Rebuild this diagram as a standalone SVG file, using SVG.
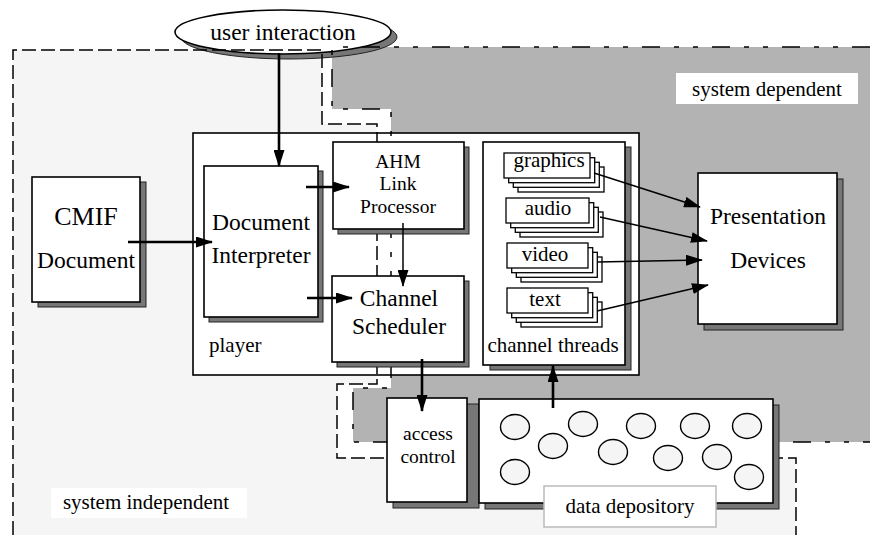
<svg xmlns="http://www.w3.org/2000/svg" width="870" height="535" viewBox="0 0 870 535">
<defs>
<style>
.box{fill:#fff;stroke:#000;stroke-width:1.6}
.sh{fill:#777;stroke:#222;stroke-width:1}
.t{font-family:"Liberation Serif","Times New Roman",serif;fill:#000;text-anchor:middle}
.big{font-size:23.5px}
.sm{font-size:21px}
.md{font-size:19.5px}
.conn{stroke:#000;fill:none}
.thick{stroke-width:2.6}
.thin{stroke-width:1.5}
.ind{fill:none;stroke:#000;stroke-width:1.5;stroke-dasharray:14 5}
.dep{fill:none;stroke:#000;stroke-width:1.5;stroke-dasharray:18 14 5 14 5 14}
.blob{fill:#f5f5f5;stroke:#000;stroke-width:1.4}
.stk{fill:#fff;stroke:#000;stroke-width:1.3}
</style>
<marker id="ah" markerUnits="userSpaceOnUse" markerWidth="17" markerHeight="11" refX="16" refY="5.5" orient="auto"><path d="M0,0 L17,5.5 L0,11 z" fill="#000"/></marker>
</defs>
<rect width="870" height="535" fill="#fff"/>
<g id="regions">
<path d="M13,50 H322 V124 H377 V384 H337 V458 H795 V535 H13 Z" fill="#f5f5f5"/>
<path d="M332,47 H870 V442 H353 V388 H391 V109 H332 Z" fill="#b3b3b3"/>
</g>
<g id="user-interaction">
<ellipse cx="289" cy="37" rx="108" ry="22" class="sh"/>
<ellipse cx="283" cy="32" rx="108" ry="22" class="box"/>
<text x="283" y="40" class="t big">user interaction</text>
</g>
<g id="player">
<rect x="193" y="133" width="446" height="242" class="box"/>
<text x="209" y="352" class="t sm" style="text-anchor:start">player</text>
</g>
<g id="boundaries">
<path d="M13,535 V50 H322 V124 H377 V384 H337 V458 H796 V535" class="ind"/>
<path d="M870,47 H332 V109 H391 V388 H353 V442 H870" class="dep"/>
</g>
<g id="cmif-document">
<rect x="38" y="182" width="108" height="125" class="sh"/>
<rect x="32" y="177" width="108" height="125" class="box"/>
<text x="86" y="225" class="t" style="font-size:26px">CMIF</text>
<text x="86" y="268" class="t big">Document</text>
</g>
<g id="document-interpreter">
<rect x="209" y="171" width="114" height="151" class="sh"/>
<rect x="204" y="166" width="114" height="151" class="box"/>
<text x="261" y="230" class="t big">Document</text>
<text x="261" y="263" class="t big">Interpreter</text>
</g>
<g id="ahm-link-processor">
<rect x="338" y="147" width="131" height="87" class="sh"/>
<rect x="333" y="142" width="131" height="87" class="box"/>
<text x="398" y="168" class="t md">AHM</text>
<text x="398" y="190" class="t md">Link</text>
<text x="398" y="213" class="t md">Processor</text>
</g>
<g id="channel-scheduler">
<rect x="337" y="281" width="132" height="86" class="sh"/>
<rect x="332" y="276" width="132" height="86" class="box"/>
<text x="399" y="306" class="t big">Channel</text>
<text x="399" y="334" class="t big">Scheduler</text>
</g>
<g id="channel-threads">
<rect x="490" y="147" width="141" height="223" class="sh"/>
<rect x="483" y="142" width="142" height="223" class="box"/>
<text x="553" y="352" class="t sm">channel threads</text>
</g>
<g id="graphics">
<rect x="518" y="167" width="86" height="25" class="stk"/>
<rect x="513.3" y="162.3" width="86" height="25" class="stk"/>
<rect x="508.7" y="157.7" width="86" height="25" class="stk"/>
<rect x="504" y="153" width="86" height="25" class="stk"/>
<text x="549" y="167" class="t sm">graphics</text>
</g>
<g id="audio">
<rect x="520" y="212" width="83" height="25" class="stk"/>
<rect x="515.3" y="207.3" width="83" height="25" class="stk"/>
<rect x="510.7" y="202.7" width="83" height="25" class="stk"/>
<rect x="506" y="198" width="83" height="25" class="stk"/>
<text x="548" y="215" class="t sm">audio</text>
</g>
<g id="video">
<rect x="521" y="257" width="81" height="25" class="stk"/>
<rect x="516.3" y="252.3" width="81" height="25" class="stk"/>
<rect x="511.7" y="247.7" width="81" height="25" class="stk"/>
<rect x="507" y="243" width="81" height="25" class="stk"/>
<text x="545" y="261" class="t sm">video</text>
</g>
<g id="text">
<rect x="521" y="302" width="81" height="25" class="stk"/>
<rect x="516.3" y="297.3" width="81" height="25" class="stk"/>
<rect x="511.7" y="292.7" width="81" height="25" class="stk"/>
<rect x="507" y="288" width="81" height="25" class="stk"/>
<text x="545" y="306" class="t sm">text</text>
</g>
<g id="presentation-devices">
<rect x="704" y="179" width="139" height="151" class="sh"/>
<rect x="698" y="173" width="139" height="151" class="box"/>
<text x="768" y="224" class="t big">Presentation</text>
<text x="768" y="268" class="t big">Devices</text>
</g>
<g id="access-control">
<rect x="393" y="404" width="86" height="104" class="sh"/>
<rect x="387" y="398" width="80" height="104" class="box"/>
<text x="428" y="440" class="t md">access</text>
<text x="428" y="463" class="t md">control</text>
</g>
<g id="data-depository">
<rect x="485" y="405" width="294" height="104" class="sh"/>
<rect x="479" y="399" width="294" height="104" class="box"/>
<ellipse cx="515" cy="427" rx="14.5" ry="12.5" class="blob"/>
<ellipse cx="515" cy="472" rx="14.5" ry="12.5" class="blob"/>
<ellipse cx="553" cy="446" rx="14.5" ry="12.5" class="blob"/>
<ellipse cx="583" cy="424" rx="14.5" ry="12.5" class="blob"/>
<ellipse cx="613" cy="452" rx="14.5" ry="12.5" class="blob"/>
<ellipse cx="641" cy="426" rx="14.5" ry="12.5" class="blob"/>
<ellipse cx="668" cy="458" rx="14.5" ry="12.5" class="blob"/>
<ellipse cx="695" cy="426" rx="14.5" ry="12.5" class="blob"/>
<ellipse cx="717" cy="457" rx="14.5" ry="12.5" class="blob"/>
<ellipse cx="747" cy="426" rx="14.5" ry="12.5" class="blob"/>
<ellipse cx="749" cy="477" rx="14.5" ry="12.5" class="blob"/>
<rect x="544" y="486" width="172" height="41" fill="#fff" stroke="#bbb" stroke-width="1.5"/>
<text x="630" y="513" class="t sm">data depository</text>
</g>
<g id="connectors">
<path d="M279,53 V166" class="conn thick" marker-end="url(#ah)"/>
<path d="M128,242 H212" class="conn thick" marker-end="url(#ah)"/>
<path d="M306,187 H349" class="conn thick" marker-end="url(#ah)"/>
<path d="M307,298 H352" class="conn thick" marker-end="url(#ah)"/>
<path d="M403,223 V286" class="conn thin" marker-end="url(#ah)"/>
<path d="M594,173 L700,207" class="conn thin" marker-end="url(#ah)"/>
<path d="M600,217 L707,241" class="conn thin" marker-end="url(#ah)"/>
<path d="M597,262 L702,260" class="conn thin" marker-end="url(#ah)"/>
<path d="M597,311 L708,285" class="conn thin" marker-end="url(#ah)"/>
<path d="M553,408 V366" class="conn thick" marker-end="url(#ah)"/>
<path d="M422,359 V411" class="conn thick" marker-end="url(#ah)"/>
</g>
<g id="region-labels">
<rect x="676" y="73" width="182" height="31" fill="#fff"/>
<text x="767" y="96" class="t sm">system dependent</text>
<rect x="51" y="488" width="196" height="30" fill="#fff"/>
<text x="146" y="509" class="t sm">system independent</text>
</g>
</svg>
